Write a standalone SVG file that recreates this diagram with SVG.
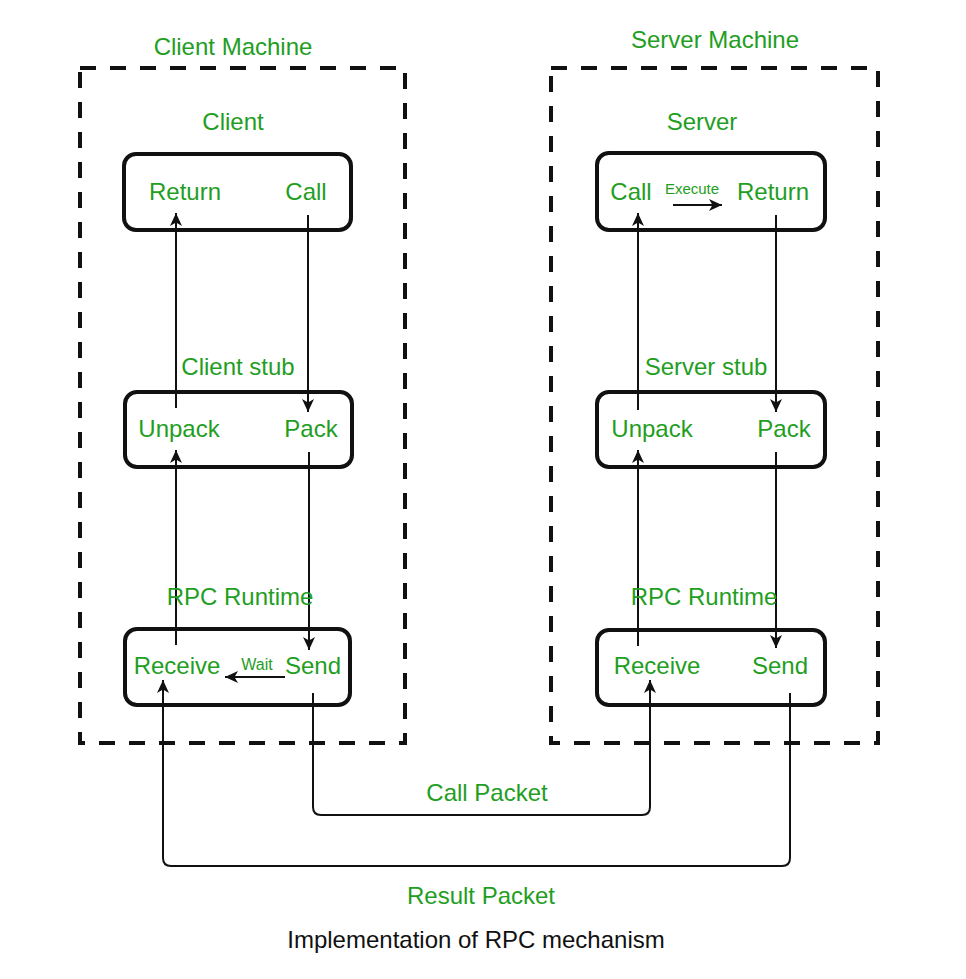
<svg xmlns="http://www.w3.org/2000/svg" width="966" height="979" viewBox="0 0 966 979">
<style>
.g{fill:#1f9e1f;font-family:"Liberation Sans",Arial,sans-serif;font-size:24px;text-anchor:middle}
.s{font-size:16px}
.t{fill:#111;font-family:"Liberation Sans",Arial,sans-serif;font-size:24px;text-anchor:middle}
.dash{fill:none;stroke:#111;stroke-width:4;stroke-dasharray:16 14}
.box{fill:#fff;stroke:#111;stroke-width:4}
.c{fill:none;stroke:#111;stroke-width:2}
</style>
<defs>
<marker id="ah" viewBox="-14 -7 14 14" refX="0" refY="0" markerWidth="14" markerHeight="14" orient="auto" markerUnits="userSpaceOnUse">
<path d="M0,0 L-13,-6 L-9.5,0 L-13,6 Z" fill="#111"/>
</marker>
</defs>
<rect width="966" height="979" fill="#fff"/>
<g id="client-machine">
<rect class="dash" x="80" y="68" width="325" height="675"/>
<text class="g" x="233" y="55">Client Machine</text>
</g>
<g id="server-machine">
<rect class="dash" x="551" y="68" width="327" height="675"/>
<text class="g" x="715" y="48">Server Machine</text>
</g>
<g id="client">
<text class="g" x="233" y="130">Client</text>
<rect class="box" x="124" y="154" width="227" height="76" rx="12"/>
<text class="g" x="185" y="200">Return</text>
<text class="g" x="306" y="200">Call</text>
</g>
<g id="client-stub">
<text class="g" x="238" y="375">Client stub</text>
<rect class="box" x="125" y="392" width="227" height="75" rx="12"/>
<text class="g" x="179" y="437">Unpack</text>
<text class="g" x="311" y="437">Pack</text>
</g>
<g id="client-rpc">
<rect class="box" x="125" y="629" width="225" height="76" rx="12"/>
<text class="g" x="177" y="674">Receive</text>
<text class="g" x="313" y="674">Send</text>
<text class="g s" x="257" y="670">Wait</text>
</g>
<g id="server">
<text class="g" x="702" y="130">Server</text>
<rect class="box" x="597" y="153" width="228" height="77" rx="12"/>
<text class="g" x="631" y="200">Call</text>
<text class="g" x="773" y="200">Return</text>
<text class="g s" x="692" y="194" style="font-size:15px">Execute</text>
</g>
<g id="server-stub">
<text class="g" x="706" y="375">Server stub</text>
<rect class="box" x="597" y="392" width="228" height="75" rx="12"/>
<text class="g" x="652" y="437">Unpack</text>
<text class="g" x="784" y="437">Pack</text>
</g>
<g id="server-rpc">
<rect class="box" x="597" y="630" width="228" height="75" rx="12"/>
<text class="g" x="657" y="674">Receive</text>
<text class="g" x="780" y="674">Send</text>
</g>
<g id="connectors">
<path class="c" d="M176,408 V213" marker-end="url(#ah)"/>
<path class="c" d="M308,215 V412" marker-end="url(#ah)"/>
<path class="c" d="M176,645 V450" marker-end="url(#ah)"/>
<path class="c" d="M309,452 V650" marker-end="url(#ah)"/>
<path class="c" d="M285,677 H225" marker-end="url(#ah)"/>
<path class="c" d="M638,410 V213" marker-end="url(#ah)"/>
<path class="c" d="M776,215 V412" marker-end="url(#ah)"/>
<path class="c" d="M638,646 V450" marker-end="url(#ah)"/>
<path class="c" d="M776,452 V648" marker-end="url(#ah)"/>
<path class="c" d="M673,205 H722" marker-end="url(#ah)"/>
<path class="c" d="M313,693 V807 Q313,815 321,815 H642 Q650,815 650,807 V680" marker-end="url(#ah)"/>
<path class="c" d="M790,693 V858 Q790,866 782,866 H171 Q163,866 163,858 V680" marker-end="url(#ah)"/>
</g>
<g id="labels">
<text class="g" x="240" y="605">RPC Runtime</text>
<text class="g" x="704" y="605">RPC Runtime</text>
<text class="g" x="487" y="801">Call Packet</text>
<text class="g" x="481" y="904">Result Packet</text>
<text class="t" x="476" y="948">Implementation of RPC mechanism</text>
</g>
</svg>
